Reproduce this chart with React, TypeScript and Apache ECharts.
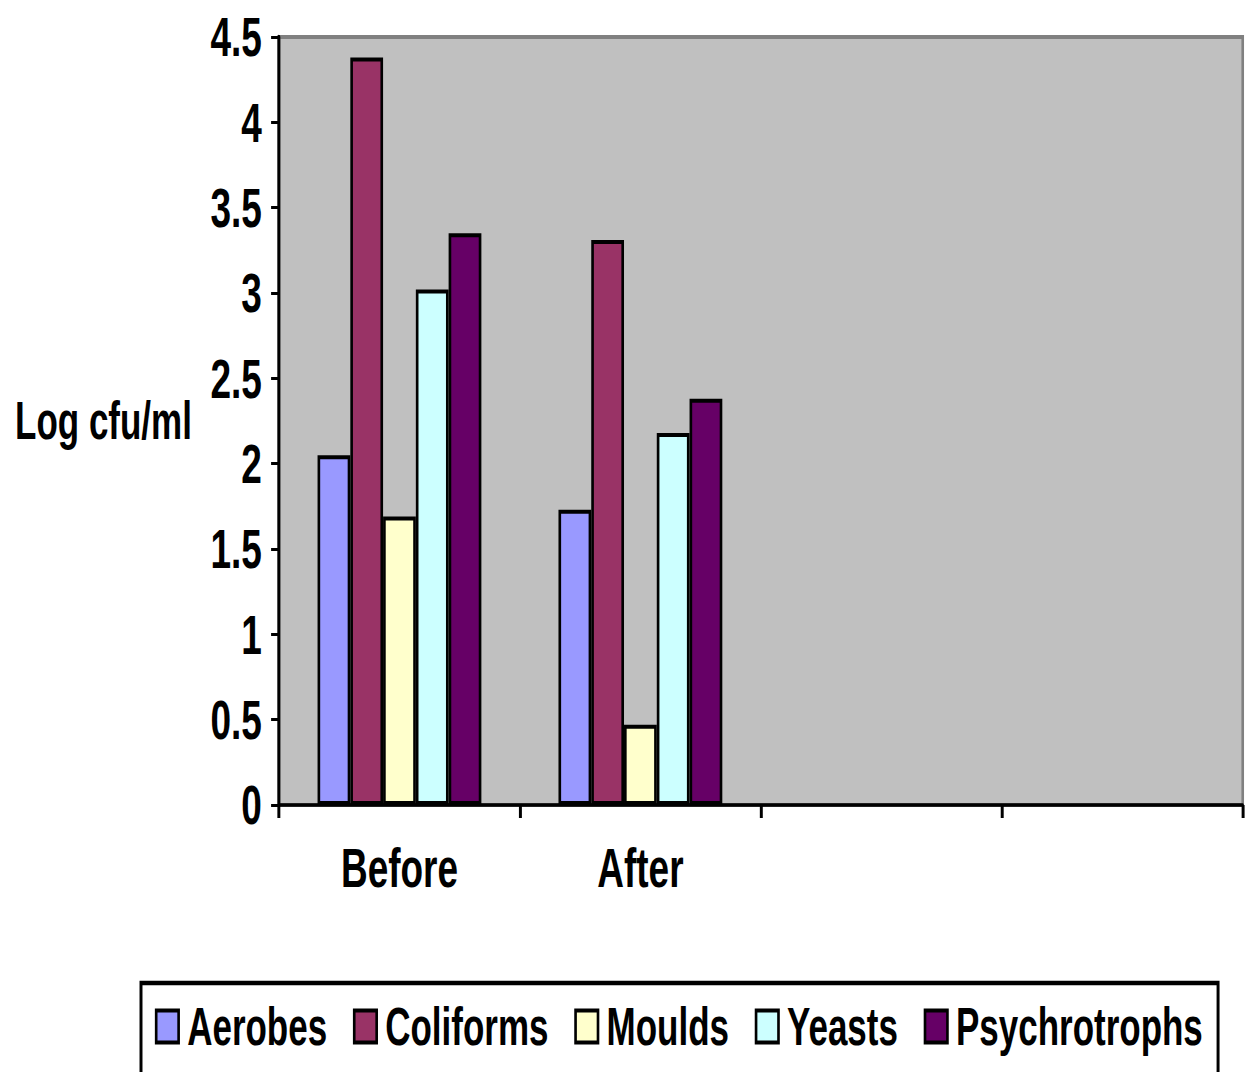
import React, { useEffect, useRef } from "react";
import * as echarts from "echarts";

const categories = ["Before", "After", "", ""];
const seriesNames = ["Aerobes", "Coliforms", "Moulds", "Yeasts", "Psychrotrophs"];
const aerobes = [2.05, 1.73];
const coliforms = [4.38, 3.31];
const moulds = [1.69, 0.47];
const yeasts = [3.02, 2.18];
const psychrotrophs = [3.35, 2.38];
const colors = ["#9999FF", "#993366", "#FFFFCC", "#CCFFFF", "#660066"];

const FONT = "'Liberation Sans', Arial, sans-serif";
// horizontal compression of the whole drawing (the reference is a condensed-looking chart)
const S = 0.66;
const PAGE_W = 1249;
const PAGE_H = 1072;
const W = PAGE_W / S;

export default function App() {
  const ref = useRef<HTMLDivElement>(null);
  useEffect(() => {
    if (!ref.current) return;
    const chart = echarts.init(ref.current, null, { renderer: "svg" });
    const values = [aerobes, coliforms, moulds, yeasts, psychrotrophs];
    chart.setOption({
      animation: false,
      backgroundColor: "#FFFFFF",
      textStyle: { fontFamily: FONT, fontWeight: "bold", color: "#000" },
      grid: {
        left: 279 / S,
        top: 37,
        right: W - 1243 / S,
        bottom: PAGE_H - 805,
        containLabel: false,
        outerBoundsMode: "none",
        show: true,
        backgroundColor: "#C0C0C0",
        borderColor: "#808080",
        borderWidth: 4,
      },
      legend: {
        left: 141 / S,
        top: 983,
        padding: [17, 23, 60, 21],
        borderColor: "#000",
        borderWidth: 4.5,
        backgroundColor: "#FFFFFF",
        itemWidth: 34,
        itemHeight: 32,
        itemGap: 39,
        icon: "rect",
        itemStyle: { borderColor: "#000", borderWidth: 4 },
        textStyle: {
          fontFamily: FONT,
          fontWeight: "bold",
          fontSize: 53,
          color: "#000",
          padding: [0, 0, 0, 8],
        },
        data: seriesNames,
      },
      xAxis: {
        type: "category",
        data: categories,
        axisLine: { lineStyle: { color: "#000", width: 3.5 } },
        axisTick: { show: true, length: 13, lineStyle: { color: "#000", width: 4.5 } },
        axisLabel: { margin: 35, fontSize: 56, fontWeight: "bold", fontFamily: FONT, color: "#000" },
        splitLine: { show: false },
      },
      yAxis: {
        type: "value",
        min: 0,
        max: 4.5,
        interval: 0.5,
        name: "Log cfu/ml",
        nameLocation: "middle",
        nameRotate: 0,
        nameGap: 132,
        nameTextStyle: { fontSize: 53, fontWeight: "bold", fontFamily: FONT, color: "#000", align: "right" },
        axisLine: { show: true, lineStyle: { color: "#000", width: 4.5 } },
        axisTick: { show: true, length: 12, lineStyle: { color: "#000", width: 3 } },
        axisLabel: { margin: 26, fontSize: 56, fontWeight: "bold", fontFamily: FONT, color: "#000" },
        splitLine: { show: false },
      },
      series: seriesNames.map((name, i) => ({
        name,
        type: "bar",
        data: values[i],
        barGap: "0%",
        barCategoryGap: "32%",
        itemStyle: { color: colors[i], borderColor: "#000", borderWidth: 4 },
      })),
    });
    return () => chart.dispose();
  }, []);
  return (
    <div
      style={{
        position: "absolute",
        left: 0,
        top: 0,
        width: PAGE_W,
        height: PAGE_H,
        overflow: "hidden",
        background: "#FFFFFF",
      }}
    >
      <div
        ref={ref}
        style={{
          width: W,
          height: PAGE_H,
          transform: `scaleX(${S})`,
          transformOrigin: "0 0",
        }}
      />
    </div>
  );
}
